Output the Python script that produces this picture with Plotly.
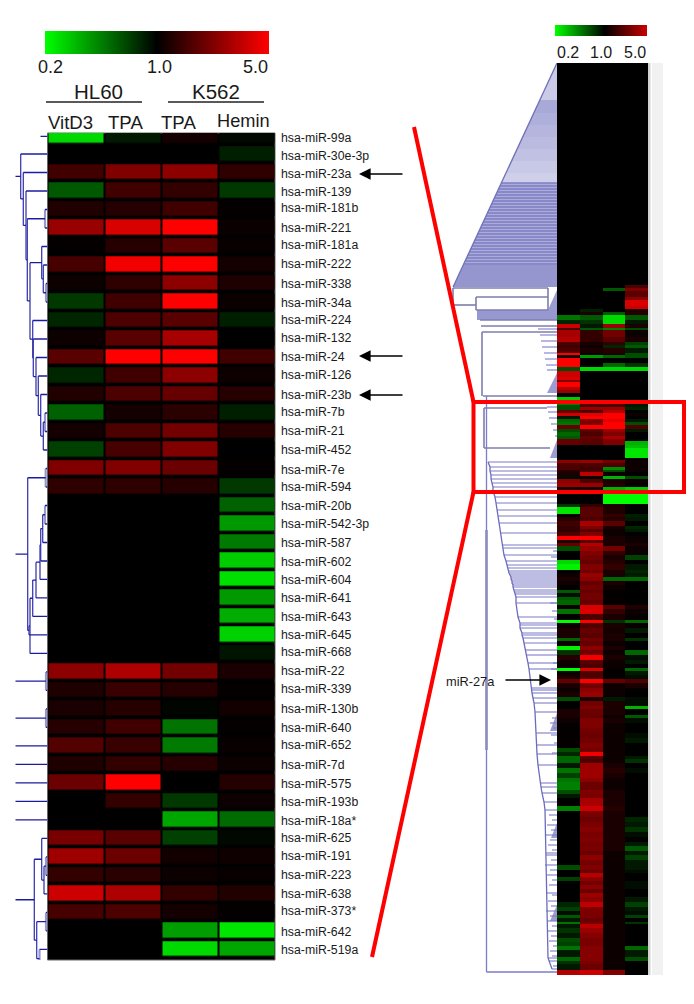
import numpy as np
import plotly.graph_objects as go

W, H = 694, 1004
FONT = "Liberation Sans"

# ---------- left heat map (log5 fold change: -1 = 0.2, 0 = 1.0, +1 = 5.0)
MIRNAS = ["hsa-miR-99a","hsa-miR-30e-3p","hsa-miR-23a","hsa-miR-139","hsa-miR-181b","hsa-miR-221","hsa-miR-181a",
          "hsa-miR-222","hsa-miR-338","hsa-miR-34a","hsa-miR-224","hsa-miR-132","hsa-miR-24","hsa-miR-126","hsa-miR-23b",
          "hsa-miR-7b","hsa-miR-21","hsa-miR-452","hsa-miR-7e","hsa-miR-594","hsa-miR-20b","hsa-miR-542-3p","hsa-miR-587",
          "hsa-miR-602","hsa-miR-604","hsa-miR-641","hsa-miR-643","hsa-miR-645","hsa-miR-668","hsa-miR-22","hsa-miR-339",
          "hsa-miR-130b","hsa-miR-640","hsa-miR-652","hsa-miR-7d","hsa-miR-575","hsa-miR-193b","hsa-miR-18a*","hsa-miR-625",
          "hsa-miR-191","hsa-miR-223","hsa-miR-638","hsa-miR-373*","hsa-miR-642","hsa-miR-519a"]
HL60_VITD3 = [-.85,0,.25,-.35,.13,.6,.02,.28,.05,-.22,-.15,.05,.35,-.15,.13,-.38,.08,-.25,.5,.18,0,0,0,0,0,0,0,0,0,
              .55,.12,.1,.15,.32,.12,.42,0,0,.47,.62,.2,.8,.28,0,0]
HL60_TPA = [-.1,0,.5,.25,.15,.85,.15,.95,.18,.25,.3,.35,1,.25,.3,.08,.3,.28,.5,.18,0,0,0,0,0,0,0,0,0,
            .68,.22,.15,.25,.22,.2,1,.2,0,.35,.42,.17,.68,.3,0,0]
K562_TPA = [.08,0,.55,.2,.25,1,.35,1,.55,1,.35,.65,1,.55,.4,.17,.45,.5,.42,.15,0,0,0,0,0,0,0,0,0,
            .45,.15,-.02,-.45,-.48,.15,0,-.22,-.65,-.25,.07,.05,.2,.08,-.62,-.85]
K562_HEMIN = [-.03,-.12,.18,-.22,.02,.04,.03,.08,.12,.04,-.12,0,.25,.05,.15,-.12,.15,0,.02,-.22,-.38,-.6,-.48,-.8,-.88,
              -.6,-.68,-.82,-.08,.1,.02,.07,.02,.03,.05,.14,.05,-.42,-.03,.06,.03,.13,.02,-.9,-.65]
LABEL_NUDGE = [2.5,2,1.5,1,-2,0,-1.5,-1,.5,1,-.5,-1,-1,-1,0,-.5,-.5,0,1.5,-.5,.5,0,0,1,.5,0,.5,0,-1.5,-1,-1.5,-.5,
               .5,-1,.5,1,0,.5,-1,-1,-.5,-.5,-1.5,1,.5]

# ---------- left dendrogram: (depth, [children]); an int child is a row of the heat map
TREE_A = (26.8,[1,(24.2,[2,(21.5,[3,(20.2,[(2.5,[4,5]),(17.5,[(5.8,[6,(4.2,[7,(1.5,[8,9])])]),
          (14.8,[10,(14.2,[11,(11.5,[12,(9.2,[13,(6.8,[14,(4.2,[(2.5,[15,16]),17])])])])])])])])])])])
TREE_B = (19.8,[(1.8,[18,19]),(18.5,[27,(17.5,[(14.8,[(11.5,[(7.5,[(6.8,[(4.8,[(2.5,[20,21]),22]),23]),24]),25]),26]),28])])])
TREE_C = (1.5,[29,30])
TREE_D = (1.5,[31,32])
TREE_E = (13.2,[(5.8,[38,(3.5,[(1.5,[39,40]),41])]),(10.8,[(1.5,[42,43]),(8,[44,45])])])
ROOT_TREES = [TREE_A, TREE_B, TREE_C, TREE_D, TREE_E]
SINGLE_ROWS = [33,34,35,36,37]
ROOT_DEPTH = 32

# ---------- right heat map: [span, c1, c2, c3, c4]
RIGHT_TOP_SPAN = 666
RIGHT_A = [[9,0,0,0,.3],[9,0,0,-.35,.5],[18,0,0,0,.35],[9,0,0,0,.55],[18,0,0,0,.85],[9,0,0,0,.8],[9,0,-.12,0,.1],
 [10,0,.1,-.35,.15],[14,-.45,-.35,-.85,-.35],[13,-.15,-.2,-.85,-.1],[10,.8,-.1,.6,.1],[8,.3,-.35,-.5,-.3],
 [19,.65,.2,.45,.05],[15,.7,.2,.35,.1],[10,.3,.1,.2,-.25],[10,.25,.05,-.15,-.35],[13,.3,.1,.15,-.1],[7,1,.05,.1,-.3],
 [8,.1,-.6,-.4,-.3],[17,1,0,0,0],[10,1,0,-.4,-.2],[13,-.3,-.85,-.85,-.85],[17,.8,0,0,0],[10,.85,0,0,0],[7,.5,0,0,0],
 [13,1,0,0,0],[10,.7,0,0,0],[10,.6,0,0,0],[10,0,0,0,0],[10,-.8,0,0,0],[15,-.5,.3,.3,-.1],[5,-.3,.3,.3,-.1],
 [10,-.3,.6,.6,-.15],[8,.4,.3,.7,0],[9,.8,.9,1,.05],[10,-.1,1,1,0],[10,-.4,.5,.9,-.1],[9,-.45,.5,1,-.3],[12,.4,1,1,.3],
 [9,-.3,.35,.6,-.1],[10,-.4,.3,.5,0],[10,-.35,.4,.65,0],[6,.4,.35,.5,0],[12,.4,.35,.5,-.7]]
RIGHT_B = [[10,0,0,0,-.75],[28,0,0,0,-.9],[7,0,0,0,0],[10,.55,.6,.45,.05],[10,.3,.3,.3,.05],[10,.3,.25,-.55,.05],
 [5,.15,.3,-.3,.05],[12,.1,.75,.05,0],[11,-.05,.05,-.7,-.3],[12,.55,.3,.1,.05],[10,.6,.6,.15,.02],[10,.1,.1,-.7,-.8],
 [15,0,0,-1,-1],[28,0,0,-1,-1],[9,-.2,.2,.1,0],[20,-.9,.35,.12,0],[10,.02,.35,.2,-.12],[10,.15,.3,.15,-.1],
 [15,.25,.65,.35,0],[10,.2,.5,.1,-.15],[10,.2,.35,.05,-.1],[10,.3,.5,.05,0],[13,1,1,.1,.05],[8,.1,.35,.1,.05],
 [10,.4,.7,.1,.1],[15,-.3,.6,.45,.05],[12,0,.5,.2,.05],[15,0,.45,.1,-.25],[13,-.85,.4,.15,0],[17,-.95,.5,.2,-.1],
 [10,.02,.45,.1,-.15],[12,.05,.6,.1,-.1],[10,.1,.55,-.4,-.4],[13,.05,.4,.1,0],[15,.02,.45,.05,0],[10,-.35,.4,.02,0],
 [10,-.05,.45,.02,0],[10,-.35,.45,.02,0],[15,-.4,.4,.02,0]]
RIGHT_C = [[12,.05,.85,.35,.12],[15,-.45,.85,.2,.05],[18,.02,.3,.1,.03],[10,-1,1,-.2,-.4],[15,.05,.3,.1,.03],[15,.1,.4,.08,-.1],
 [15,.1,.35,.1,0],[8,-.4,.45,.1,-.2],[16,.05,.4,.05,0],[11,-.95,.55,.1,0],[15,-.2,.45,.05,-.4],[15,.15,.95,.1,-.05],
 [13,.05,.35,.05,-.1],[12,.05,.3,.05,0],[8,-1,.85,.02,-.4],[12,.05,.3,.02,-.1],[12,.1,.3,.02,-.05],[13,.4,1,.4,.3],
 [15,.1,.45,.05,.1],[12,.05,.55,.05,.02],[15,.1,.6,.05,0],[11,-.3,.1,-.1,-.05],[15,0,.45,.1,-.05],[9,0,.5,.1,-.7],
 [18,.1,.42,.1,0],[10,.1,.4,.05,-.35],[15,.05,.5,.1,-.05],[15,.02,.5,.05,0],[15,.02,.45,.05,0],[15,.02,.42,.05,-.05],
 [15,.02,.45,.05,-.1],[15,.02,.5,.05,0],[10,-.3,.45,.05,0],[13,-.15,.95,.05,0],[9,-.4,.35,.05,-.1],[13,-.4,.3,.05,-.2],
 [13,-.1,.62,.1,0],[17,-.45,.62,.15,-.05],[13,-.25,.62,.1,0],[12,-.45,.55,.05,0],[25,-.5,.42,.05,0]]
RIGHT_D = [[12,-.3,.5,.1,0],[13,-.1,.48,.1,0],[23,0,.65,.1,0],[14,-.5,.8,.15,0],[18,0,.48,.1,0],[15,0,.42,.1,-.15],
 [15,0,.48,.1,-.1],[15,0,.52,.1,-.2],[15,0,.48,.1,-.05],[15,0,.5,.1,0],[13,0,.46,.1,-.1],[14,0,.48,.1,-.35],[13,0,.42,.05,-.1],
 [15,0,.55,.05,-.25],[15,0,.46,.05,-.1],[15,-.3,.5,.05,-.1],[10,0,.42,.05,-.05],[12,0,.72,.05,0],[10,-.25,.55,.05,0],
 [13,0,.45,.05,-.05],[12,0,.55,.05,-.05],[11,0,.42,.05,0],[12,0,.62,.05,0],[15,0,.55,.05,-.1],[15,-.15,.75,.05,-.25],
 [12,-.25,.5,.05,-.1],[13,-.05,.48,.05,-.05],[10,-.35,.48,.05,-.25],[10,-.1,.42,.05,0],[7,-.45,.48,.05,-.2],[13,-.1,.72,.05,0],
 [15,-.2,.6,.05,0],[13,-.1,.52,.05,0],[12,-.3,.48,.05,0],[13,-.25,.48,.05,0],[12,-.45,.52,.05,-.4],[20,-.1,.52,.05,-.1],
 [12,-.4,.52,.05,-.3],[10,-.2,.48,.05,0],[18,-.1,.42,.05,0],[15,.7,.8,.5,0]]

# ---------- right dendrogram: row = distance down the heat map, depth = distance left of it
TOP_BAND_ROWS = [0,37,50,62,74,86,98,110,120,202,224]
TOP_BAND_COLORS = ["#cbcbe8","#a9a9d8","#afafdb","#b5b5de","#bbbbe1","#c1c1e4","#c8c8e7","#cfcfea","#acacda","#9696ce"]
TOP_SLOPE = 0.464
BOX_SEGS = [(225,104,9),(242,104,81),(234,81,9),(247,81,9),(257,77,0),(263,76,0),(269,75,0),(333,74,0),(345,73,10),(385,73,7)]
BOX_VERT = [(104,225,242),(81,234,247),(9,225,247),(75,269,333),(73,345,385)]
FILL_TRIS = [(227,247,9),(310,330,10),(377,395,7),(650,668,7),(760,775,6),(842,858,7)]
FILL_BAND = (247,257,80)
BRANCHES = [(266,19),(272,17),(278,16),(284,15),(290,13),(296,12),(302,11),(307,10),
 (344,10),(349,9),(355,8),(361,6),(367,4),(373,2)]
BACKBONE = (70.5,333,909)
BACKBONE_THICK = (70.5,467,687)
SPINE = [(399,69),(404,67),(408,67),(412,66),(416,66),(420,65),(424,64),(428,64),(434,62),(440,61),(447,60),(453,59),(460,58),
 (470,56),(482,55),(485,54),(492,53),(498,51),(502,50),(505,49),(508,49),(510,48),(512,47),(514,46),(516,46),(518,45),(520,45),
 (522,44),(524,44),(527,43),(529,42),(531,42),(534,41),(540,41),(554,39),(560,37),(562,37),(565,37),(570,35),(572,35),(575,34),
 (580,33),(587,31),(592,30),(600,29),(606,28),(625,26),(627,26),(630,25),(635,24),(640,23),(649,22),(670,21),(682,21),(691,20),
 (702,19),(720,17),(724,16),(730,15),(739,13),(747,12),(790,11),(830,10),(895,9),(906,5)]
TWIGS = [(488,4),(494,6),(540,7),(548,5),(556,3),(600,4),(606,6),(655,5),(660,7),(665,4),(672,6),(680,3),(690,5),(752,8),(757,5),
 (762,10),(767,6),(772,12),(777,7),(782,9),(787,5),(792,11),(797,6),(802,12),(807,7),(812,10),(817,5),(822,8),(832,5),(838,9),
 (843,6),(848,11),(853,7),(858,10),(863,5),(868,9),(873,6),(878,8),(883,4),(888,7),(893,5),(898,8),(903,4)]

# ---------- helpers
px = lambda x: x / W
py = lambda y: 1 - y / H
SCALE = [[0,"#00ff00"],[.5,"#000000"],[1,"#ff0000"]]
DX_L, DY_L = [47.5/W, 275/W], [1-960/H, 1-133/H]
DX_R, DY_R = [557/W, 648/W], [1-975/H, 1-63/H]
LEFT_ROW_RANGE = [44.57, -0.135]

fig = go.Figure()

# left heat map with its colour bar
fig.add_trace(go.Heatmap(
    z=np.array([HL60_VITD3, HL60_TPA, K562_TPA, K562_HEMIN]).T, x=[0,1,2,3], y=list(range(len(MIRNAS))),
    colorscale=SCALE, zmin=-1, zmax=1, xgap=2, ygap=3.5, hoverinfo="skip",
    colorbar=dict(orientation="h", x=px(45), xanchor="left", y=py(54), yanchor="bottom", len=224, lenmode="pixels",
                  thickness=23, thicknessmode="pixels", outlinewidth=0, showticklabels=False, ticks="", xpad=0, ypad=0),
    xaxis="x", yaxis="y"))

# left dendrogram
hx, hy, vx, vy, lx, ly = [], [], [], [], [], []
def walk(node):
    if isinstance(node, int):
        return node, 0
    depth, kids = node
    pts = [walk(k) for k in kids]
    ys = [p[0] for p in pts]
    for yk, dk in pts:
        hx.extend([dk, depth, None]); hy.extend([yk, yk, None])
    tx, ty = (lx, ly) if all(isinstance(k, int) for k in kids) else (vx, vy)
    tx.extend([depth, depth, None]); ty.extend([min(ys), max(ys), None])
    return (min(ys) + max(ys)) / 2, depth
for tree in ROOT_TREES:
    yr, dr = walk(tree)
    hx.extend([dr, ROOT_DEPTH, None]); hy.extend([yr, yr, None])
for row in SINGLE_ROWS:
    hx.extend([0, ROOT_DEPTH, None]); hy.extend([row, row, None])
hx.extend([0, 7, None]); hy.extend([0.05, 0.05, None])
fig.add_trace(go.Scatter(x=lx, y=ly, mode="lines", line=dict(color="#9898d0", width=2.2), xaxis="x2", yaxis="y2", hoverinfo="skip"))
fig.add_trace(go.Scatter(x=vx, y=vy, mode="lines", line=dict(color="#3c3cae", width=1.3), xaxis="x2", yaxis="y2", hoverinfo="skip"))
fig.add_trace(go.Scatter(x=hx, y=hy, mode="lines", line=dict(color="#1c1ca0", width=1.3), xaxis="x2", yaxis="y2", hoverinfo="skip"))

# right heat map
rows = RIGHT_A + RIGHT_B + RIGHT_C + RIGHT_D
spans = [RIGHT_TOP_SPAN] + [r[0] for r in rows]
edges = np.concatenate([[0], np.cumsum(spans)]) / 3
z_right = [[0,0,0,0]] + [r[1:] for r in rows]
fig.add_trace(go.Heatmap(z=z_right, x=[0,1,2,3], y=edges.tolist(), colorscale=SCALE, zmin=-1, zmax=1, showscale=False,
                         hoverinfo="skip", xaxis="x3", yaxis="y3"))
# colour scale of the right panel (its bar stops short of full red)
fig.add_trace(go.Heatmap(z=[[0]], x=[-9], y=[0], colorscale=[[0,"#00ff00"],[.54,"#000000"],[1,"#c80000"]], zmin=-1, zmax=.8,
    hoverinfo="skip", xaxis="x3", yaxis="y3",
    colorbar=dict(orientation="h", x=px(555), xanchor="left", y=py(36), yanchor="bottom", len=92, lenmode="pixels",
                  thickness=11, thicknessmode="pixels", outlinewidth=0, showticklabels=False, ticks="", xpad=0, ypad=0)))

# right dendrogram: top funnel
def poly(xs, ys, color):
    fig.add_trace(go.Scatter(x=xs, y=ys, mode="lines", fill="toself", fillcolor=color,
                             line=dict(color=color, width=0), xaxis="x4", yaxis="y4", hoverinfo="skip"))
for r0, r1, col in zip(TOP_BAND_ROWS[:-1], TOP_BAND_ROWS[1:], TOP_BAND_COLORS):
    poly([0, r0*TOP_SLOPE, r1*TOP_SLOPE, 0, 0], [r0, r0, r1, r1, r0], col)
sx, sy = [], []
for r in range(120, 202, 3):
    sx.extend([r*TOP_SLOPE, 0, None]); sy.extend([r, r, None])
fig.add_trace(go.Scatter(x=sx, y=sy, mode="lines", line=dict(color="#7e7ec4", width=1.3), xaxis="x4", yaxis="y4", hoverinfo="skip"))
fig.add_trace(go.Scatter(x=[0, 224*TOP_SLOPE], y=[0, 224], mode="lines", line=dict(color="#7070b8", width=1.3), xaxis="x4", yaxis="y4", hoverinfo="skip"))
# lower tree
for r0, r1, d in FILL_TRIS:
    poly([0, d, 0, 0], [r0, r1, r1, r0], "#9c9cd2")
r0, r1, d = FILL_BAND
poly([0, d, d, 0, 0], [r0, r0, r1, r1, r0], "#9898d0")
gx, gy = [], []
for r, d0, d1 in BOX_SEGS:
    gx.extend([d0, d1, None]); gy.extend([r, r, None])
for d, r0, r1 in BOX_VERT:
    gx.extend([d, d, None]); gy.extend([r0, r1, None])
fig.add_trace(go.Scatter(x=gx, y=gy, mode="lines", line=dict(color="#7e7eac", width=1.6), xaxis="x4", yaxis="y4", hoverinfo="skip"))
bx, by = [], []
for r, d in BRANCHES + SPINE + TWIGS:
    bx.extend([d, 0, None]); by.extend([r, r, None])
fig.add_trace(go.Scatter(x=bx, y=by, mode="lines", line=dict(color="#7c7cc8", width=1.1), xaxis="x4", yaxis="y4", hoverinfo="skip"))
fig.add_trace(go.Scatter(x=[BACKBONE[0]]*2, y=list(BACKBONE[1:]), mode="lines", line=dict(color="#7c7cc8", width=1.3), xaxis="x4", yaxis="y4", hoverinfo="skip"))
fig.add_trace(go.Scatter(x=[BACKBONE_THICK[0]]*2, y=list(BACKBONE_THICK[1:]), mode="lines", line=dict(color="#8c8cc0", width=2.6), xaxis="x4", yaxis="y4", hoverinfo="skip"))
fig.add_trace(go.Scatter(x=[0, 70.5], y=[909, 909], mode="lines", line=dict(color="#7c7cc8", width=1.5), xaxis="x4", yaxis="y4", hoverinfo="skip"))
fig.add_trace(go.Scatter(x=[p[1] for p in SPINE], y=[p[0] for p in SPINE], mode="lines", line=dict(color="#6c6cbe", width=1.3),
                         xaxis="x4", yaxis="y4", hoverinfo="skip"))

# ---------- text
def text(x, y, s, size, anchor="center", color="#1a1a1a"):
    return dict(x=px(x), y=py(y), xref="paper", yref="paper", text=s, showarrow=False, xanchor=anchor, yanchor="middle",
                font=dict(family=FONT, size=size, color=color), borderpad=0, borderwidth=0)
def arrow(x_tip, y, x_tail, width=1.6, size=1.45):
    return dict(x=px(x_tip), y=py(y), xref="paper", yref="paper", ax=x_tail-x_tip, ay=0, text="", showarrow=True,
                arrowhead=2, arrowsize=size, arrowwidth=width, arrowcolor="#000000", standoff=0)

annos = [
    text(50,67,"0.2",18), text(159.5,67,"1.0",18), text(256,67,"5.0",18),
    text(98,91,"HL60",20.5), text(216,91,"K562",20.5),
    text(70,122,"VitD3",18.6), text(125,122,"TPA",18.6), text(179,122,"TPA",18.6), text(243,121,"Hemin",18.2),
    text(568,53,"0.2",16), text(601,53,"1.0",16), text(635,53,"5.0",16),
    text(446,681,"miR-27a",12.8,"left"),
    arrow(359,174,404), arrow(359,356,404), arrow(359,395,404), arrow(551,680,504),
]
for i, name in enumerate(MIRNAS):
    yc = 135.5 + 18.5*i + LABEL_NUDGE[i]
    annos.append(text(281, yc, name, 12.3, "left"))

# ---------- shapes
def rect(x0, y0, x1, y1, fill, line=None, layer="below", w=1):
    return dict(type="rect", xref="paper", yref="paper", x0=px(x0), x1=px(x1), y0=py(y0), y1=py(y1), fillcolor=fill,
                line=dict(color=line, width=w) if line else dict(width=0), layer=layer)
def seg(x0, y0, x1, y1, color, w):
    return dict(type="line", xref="paper", yref="paper", x0=px(x0), x1=px(x1), y0=py(y0), y1=py(y1), line=dict(color=color, width=w), layer="above")
shapes = [
    rect(47.5,133,275,960,"#000000","#666666"),
    rect(648,63,650.5,975,"#d2d2d2"),
    rect(652,63,663,975,"#f1f1f1"),
    seg(46,102,142,102,"#222222",1.5), seg(168,102,264,102,"#222222",1.5),
    seg(414,127,473.5,402,"#ff0000",4), seg(473.5,492,372,957,"#ff0000",4),
    dict(type="rect", xref="paper", yref="paper", x0=px(473.5), x1=px(684), y0=py(402), y1=py(492),
         line=dict(color="#ff0000", width=4), layer="above"),
]

hidden = dict(visible=False, showgrid=False, zeroline=False, fixedrange=True)
fig.update_layout(
    width=W, height=H, margin=dict(l=0,r=0,t=0,b=0), autosize=False, showlegend=False,
    paper_bgcolor="#ffffff", plot_bgcolor="rgba(0,0,0,0)", font=dict(family=FONT),
    xaxis=dict(domain=DX_L, range=[-0.5,3.5], anchor="y", **hidden),
    yaxis=dict(domain=DY_L, range=LEFT_ROW_RANGE, anchor="x", **hidden),
    xaxis2=dict(domain=[0,47.5/W], range=[47.5,0], anchor="y2", **hidden),
    yaxis2=dict(domain=DY_L, range=LEFT_ROW_RANGE, anchor="x2", **hidden),
    xaxis3=dict(domain=DX_R, range=[-0.5,3.5], anchor="y3", **hidden),
    yaxis3=dict(domain=DY_R, range=[912,0], anchor="x3", **hidden),
    xaxis4=dict(domain=[440/W,557/W], range=[117,0], anchor="y4", **hidden),
    yaxis4=dict(domain=DY_R, range=[912,0], anchor="x4", **hidden),
    annotations=annos, shapes=shapes,
)
fig.write_html("out.html", config={"displayModeBar": False},
               post_script="document.body.style.margin='0';document.body.style.overflow='hidden';")
